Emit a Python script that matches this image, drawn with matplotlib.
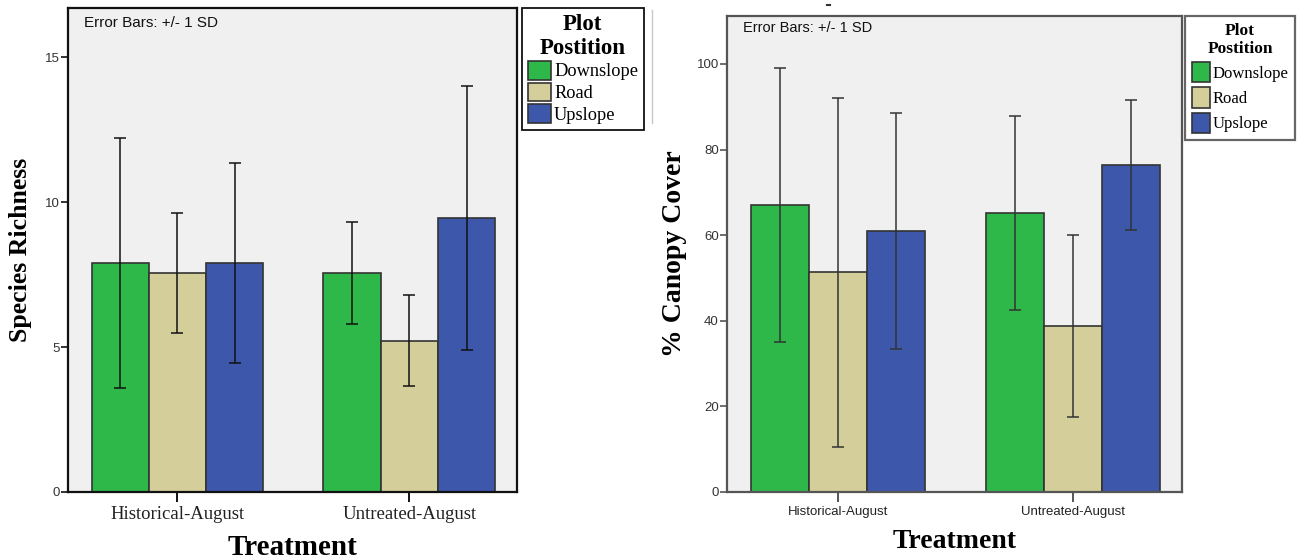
import numpy as np
import matplotlib
matplotlib.use('Agg')
import matplotlib.pyplot as plt
from matplotlib.lines import Line2D

treatments = ['Historical-August', 'Untreated-August']
positions = ['Downslope', 'Road', 'Upslope']
colors = ['#2fb84a', '#d4cf9a', '#3d58ab']

# species richness: mean and +/- 1 SD per plot position
richness_mean = {'Downslope': [7.9, 7.55], 'Road': [7.55, 5.22], 'Upslope': [7.9, 9.45]}
richness_sd = {'Downslope': [4.3, 1.75], 'Road': [2.07, 1.56], 'Upslope': [3.45, 4.55]}

# canopy cover (%)
canopy_mean = {'Downslope': [67.0, 65.2], 'Road': [51.3, 38.8], 'Upslope': [61.0, 76.3]}
canopy_sd = {'Downslope': [32.0, 22.7], 'Road': [40.8, 21.2], 'Upslope': [27.5, 15.2]}

SERIF = 'Liberation Serif'
SANS = 'Liberation Sans'
plt.rcParams['font.family'] = SANS

fig = plt.figure(figsize=(13.06, 5.59), dpi=100)
ax1 = fig.add_axes([0.0521, 0.1199, 0.3438, 0.8658])
ax2 = fig.add_axes([0.5567, 0.1199, 0.3484, 0.8515])


def draw_panel(ax, means, sds, ylim, yticks, ylabel, frame_color, err_color,
               tick_serif, xlabel_size, ylabel_size, ylabel_pad, note_size, note_y):
    x = np.arange(len(treatments))
    w = 0.247
    for i, pos in enumerate(positions):
        xs = x + (i - 1) * w
        ax.bar(xs, means[pos], width=w, color=colors[i], edgecolor='#333333',
               linewidth=1.2, label=pos, zorder=2)
        ax.errorbar(xs, means[pos], yerr=sds[pos], fmt='none', ecolor=err_color,
                    elinewidth=1.1, capsize=4, capthick=1.1, zorder=3)
    ax.set_xlim(-0.472, 1.465)
    ax.set_ylim(*ylim)
    ax.set_yticks(yticks)
    ax.set_facecolor('#f0f0f0')
    for sp in ax.spines.values():
        sp.set_color(frame_color)
        sp.set_linewidth(1.6)
    ax.set_xticks(x)
    if tick_serif:
        ax.set_xticklabels(treatments, fontsize=13.5, family=SERIF, color='#222222')
    else:
        ax.set_xticklabels(treatments, fontsize=9.5, family=SANS, color='#222222')
    ax.tick_params(axis='x', length=7, width=1.4, color=frame_color, pad=3)
    ax.tick_params(axis='y', length=5, width=1.2, color=frame_color, labelsize=9.5,
                   labelcolor='#333333', pad=1)
    ax.set_xlabel('Treatment', family=SERIF, fontweight='bold', fontsize=xlabel_size,
                  labelpad=8)
    ax.set_ylabel(ylabel, family=SERIF, fontweight='bold', fontsize=ylabel_size,
                  labelpad=ylabel_pad)
    ax.text(0.035, note_y, 'Error Bars: +/- 1 SD', transform=ax.transAxes,
            ha='left', va='center', fontsize=note_size, family=SANS, color='#111111')


draw_panel(ax1, richness_mean, richness_sd, (0, 16.7), [0, 5, 10, 15],
           'Species Richness', '#111111', '#111111', True, 21, 18.5, 9, 11, 0.969)
draw_panel(ax2, canopy_mean, canopy_sd, (0, 111.2), [0, 20, 40, 60, 80, 100],
           '% Canopy Cover', '#555555', '#333333', False, 20, 20, 7, 10.5, 0.975)

handles1, labels1 = ax1.get_legend_handles_labels()
leg1 = fig.legend(handles1, labels1, title='Plot\nPostition', loc='upper left',
                  bbox_to_anchor=(522 / 1306, 1 - 8 / 559), borderaxespad=0,
                  prop={'family': SERIF, 'size': 13.2},
                  title_fontproperties={'family': SERIF, 'weight': 'bold', 'size': 16.5},
                  handlelength=1.3, handleheight=1.2, handletextpad=0.15,
                  labelspacing=0.12, borderpad=0.3, fancybox=False,
                  edgecolor='#111111', framealpha=1)
leg1.get_frame().set_linewidth(1.3)
leg1.get_title().set_multialignment('center')

handles2, labels2 = ax2.get_legend_handles_labels()
leg2 = fig.legend(handles2, labels2, title='Plot\nPostition', loc='upper left',
                  bbox_to_anchor=(1185 / 1306, 1 - 16 / 559), borderaxespad=0,
                  prop={'family': SERIF, 'size': 12},
                  title_fontproperties={'family': SERIF, 'weight': 'bold', 'size': 12.5},
                  handlelength=1.1, handleheight=1.5, handletextpad=0.15,
                  labelspacing=0.3, borderpad=0.4, fancybox=False,
                  edgecolor='#666666', framealpha=1)
leg2.get_frame().set_linewidth(1.6)
leg2.get_title().set_multialignment('center')

# faint edge and cut-off title mark at the top left of the second panel
fig.add_artist(Line2D([652 / 1306, 652 / 1306], [1 - 10 / 559, 1 - 123 / 559],
                      transform=fig.transFigure, color='#c8c8c8', linewidth=1))
fig.add_artist(Line2D([827 / 1306, 830 / 1306], [1 - 5 / 559, 1 - 5 / 559],
                      transform=fig.transFigure, color='#333333', linewidth=1.5))

fig.savefig('out.png', dpi=100)
